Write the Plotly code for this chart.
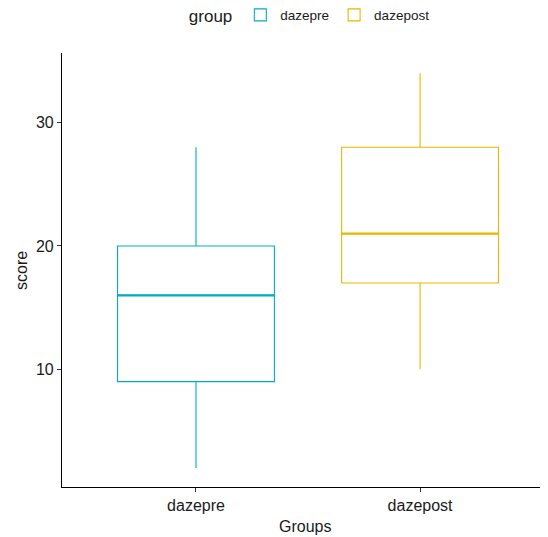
import plotly.graph_objects as go

groups = ["dazepre", "dazepost"]
q1 = [9, 17]
median = [16, 21]
q3 = [20, 28]
lower = [2, 10]
upper = [28, 34]
colors = ["#00AFBB", "#E7B800"]
y_ticks = [10, 20, 30]

fig = go.Figure()
bw = 0.7
for i, g in enumerate(groups):
    fig.add_trace(go.Box(
        x=[i], q1=[q1[i]], median=[median[i]], q3=[q3[i]],
        lowerfence=[lower[i]], upperfence=[upper[i]],
        name=g, width=bw, fillcolor="white",
        line=dict(color=colors[i], width=1.1),
        whiskerwidth=0, showlegend=True,
    ))
for i, g in enumerate(groups):
    fig.add_trace(go.Scatter(
        x=[i - bw / 2, i + bw / 2], y=[median[i], median[i]],
        mode="lines", line=dict(color=colors[i], width=2.2),
        showlegend=False, hoverinfo="skip",
    ))

fig.update_layout(
    width=540, height=529,
    margin=dict(l=54, r=0, t=45, b=50, autoexpand=False),
    plot_bgcolor="white", paper_bgcolor="white",
    font=dict(family="Liberation Sans, Arial, sans-serif", color="#1a1a1a"),
    boxmode="overlay",
    legend=dict(
        orientation="h", x=0.512, xanchor="center", y=1.085, yanchor="middle",
        title=dict(text="group", font=dict(size=17)),
        font=dict(size=13.5), itemwidth=30,
    ),
    xaxis=dict(
        range=[-0.598, 1.571], tickvals=[0, 1], ticktext=groups,
        showline=True, linecolor="black", linewidth=1.2,
        ticks="outside", ticklen=4, tickcolor="#333",
        tickfont=dict(size=16), showgrid=False, zeroline=False, automargin=False,
    ),
    yaxis=dict(
        range=[0.45, 35.65], tickvals=y_ticks,
        showline=True, linecolor="black", linewidth=1.2,
        ticks="outside", ticklen=4, tickcolor="#333",
        tickfont=dict(size=16), showgrid=False, zeroline=False, automargin=False,
    ),
    annotations=[
        dict(text="Groups", xref="paper", yref="paper", x=0.5, y=-0.0899,
             xanchor="center", yanchor="middle", showarrow=False,
             font=dict(size=16)),
        dict(text="score", xref="paper", yref="paper", x=-0.0844, y=0.5,
             xanchor="center", yanchor="middle", showarrow=False,
             textangle=-90, font=dict(size=16)),
    ],
)
fig.write_html("out.html")
